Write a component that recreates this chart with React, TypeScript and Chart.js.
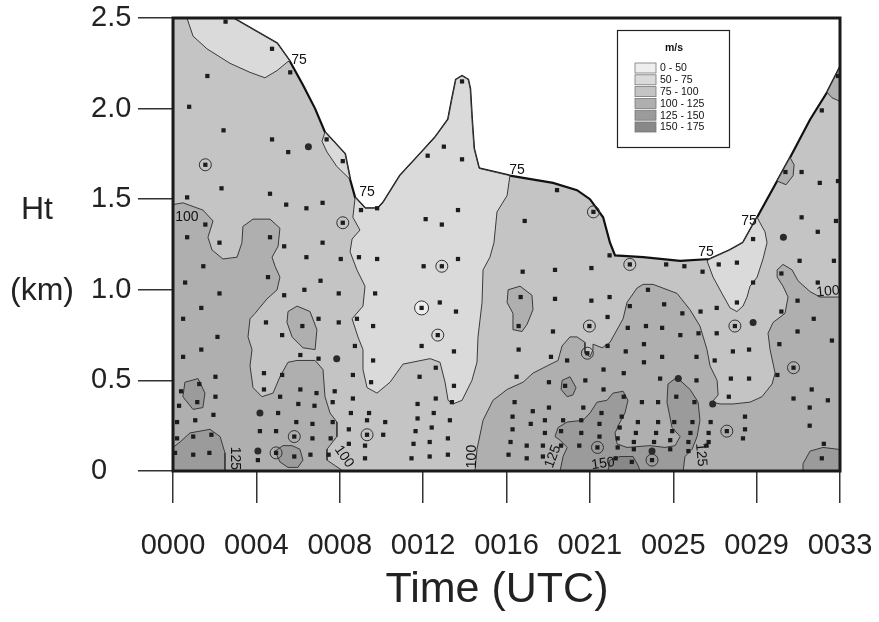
import React, { useEffect, useRef } from "react";
import { Chart, registerables } from "chart.js";

Chart.register(...registerables);

// ---------- axes ----------
const xTickPos = [0, 4.125, 8.25, 12.375, 16.5, 20.625, 24.75, 28.875, 33];
const xTickLabels = ["0000", "0004", "0008", "0012", "0016", "0021", "0025", "0029", "0033"];
const yTickValues = [0, 0.5, 1.0, 1.5, 2.0, 2.5];
const yTickLabels = ["0", "0.5", "1.0", "1.5", "2.0", "2.5"];

// ---------- legend ----------
const levelLabels = ["0 - 50", "50 - 75", "75 - 100", "100 - 125", "125 - 150", "150 - 175"];
const levelColors = ["#eeeeee", "#dadada", "#c4c4c4", "#afafaf", "#9b9b9b", "#888888"];

// ---------- contour regions: [time (min), height (km)] ----------
const domainEdge = [[0,0],[33,0],[33,2.23],[32.36,2.09],[31.52,1.94],[30.53,1.73],[29.89,1.60],[28.90,1.40],[28.20,1.26],[27.56,1.22],[26.57,1.17],[25.09,1.16],[23.26,1.18],[21.87,1.19],[21.62,1.26],[21.28,1.40],[20.63,1.50],[19.99,1.55],[18.80,1.59],[16.67,1.63],[15.14,1.67],[14.89,1.78],[14.79,1.94],[14.70,2.11],[14.60,2.16],[14.30,2.18],[14.00,2.16],[13.80,2.05],[13.61,1.94],[12.96,1.84],[12.22,1.75],[11.23,1.63],[10.39,1.48],[10.14,1.45],[9.50,1.45],[9.01,1.51],[8.76,1.61],[8.51,1.75],[7.52,1.87],[7.03,2.00],[6.43,2.13],[5.79,2.26],[5.15,2.36],[2.97,2.5],[0,2.5],[0,0]];
const topLeftLight = [[0.69,2.5],[0.99,2.40],[1.68,2.33],[2.82,2.25],[3.81,2.20],[4.55,2.17],[5.15,2.21],[5.69,2.26],[5.79,2.26],[5.15,2.36],[2.97,2.5],[0.69,2.5]];
const ridgeLight = [[7.52,1.87],[8.51,1.75],[8.76,1.61],[8.11,1.68],[7.62,1.76],[7.37,1.82],[7.52,1.87]];
const centralLight = [[9.01,1.51],[9.50,1.45],[10.14,1.45],[10.39,1.48],[11.23,1.63],[12.22,1.75],[12.96,1.84],[13.61,1.94],[13.80,2.05],[14.00,2.16],[14.30,2.18],[14.60,2.16],[14.70,2.11],[14.79,1.94],[14.89,1.78],[15.14,1.67],[16.67,1.63],[16.53,1.52],[16.03,1.43],[15.88,1.26],[15.68,1.18],[15.34,1.11],[15.29,0.93],[15.09,0.74],[15.04,0.60],[14.79,0.50],[14.30,0.39],[13.85,0.37],[13.61,0.39],[13.46,0.49],[13.21,0.60],[12.72,0.62],[11.38,0.59],[10.74,0.49],[10.09,0.43],[9.60,0.46],[9.40,0.56],[9.40,0.67],[9.15,0.74],[8.86,0.84],[9.40,0.91],[9.50,1.02],[9.10,1.11],[8.76,1.21],[8.86,1.28],[9.25,1.33],[8.90,1.40],[9.01,1.51]];
const rightLight = [[26.42,1.16],[26.72,1.07],[27.16,0.98],[27.56,0.90],[27.90,0.88],[28.20,0.91],[28.40,0.96],[28.55,1.02],[28.90,1.07],[29.19,1.17],[29.39,1.26],[29.29,1.32],[29.04,1.37],[28.90,1.40],[28.20,1.26],[27.56,1.22],[26.57,1.17],[26.42,1.16]];
const leftHigh = [[0,1.47],[0.49,1.48],[1.48,1.44],[1.98,1.38],[1.73,1.29],[1.93,1.22],[2.47,1.17],[3.17,1.18],[3.41,1.26],[3.46,1.35],[3.96,1.39],[4.80,1.39],[5.29,1.34],[5.20,1.24],[4.90,1.18],[5.05,1.13],[5.29,1.07],[5.15,1.00],[4.65,0.95],[4.06,0.87],[3.81,0.84],[3.71,0.74],[3.91,0.67],[3.81,0.58],[3.96,0.46],[4.40,0.41],[4.95,0.43],[5.29,0.52],[5.69,0.60],[6.14,0.61],[7.03,0.61],[7.42,0.56],[7.52,0.41],[7.77,0.32],[8.11,0.27],[8.11,0.19],[7.62,0.12],[7.62,0.06],[8.41,0],[0,0],[0,1.47]];
const midHighIsland = [[5.69,0.88],[6.14,0.91],[6.78,0.88],[7.12,0.78],[7.03,0.67],[6.43,0.68],[5.89,0.74],[5.64,0.82],[5.69,0.88]];
const rightHigh = [[14.94,0],[15.04,0.12],[15.34,0.28],[15.83,0.39],[16.53,0.45],[17.32,0.49],[17.81,0.54],[18.51,0.58],[19.05,0.61],[19.25,0.69],[19.64,0.74],[19.99,0.74],[20.38,0.71],[20.38,0.65],[20.63,0.63],[20.78,0.67],[20.78,0.70],[21.23,0.68],[21.62,0.71],[21.87,0.76],[22.27,0.84],[22.46,0.93],[22.96,1.01],[23.26,1.03],[23.75,1.03],[24.94,0.98],[25.58,0.89],[26.07,0.80],[26.42,0.67],[26.57,0.58],[26.92,0.50],[26.97,0.42],[26.67,0.38],[27.07,0.37],[27.71,0.37],[28.55,0.38],[29.14,0.41],[29.64,0.48],[29.79,0.54],[29.54,0.67],[29.44,0.76],[29.69,0.82],[30.28,0.87],[30.43,0.96],[30.18,1.02],[29.89,1.07],[29.89,1.11],[30.18,1.14],[30.63,1.11],[30.92,1.05],[31.52,0.99],[32.01,0.96],[33,0.96],[33,0],[14.94,0]];
const bulbHighIsland = [[16.58,1.00],[17.17,1.02],[17.76,0.97],[17.81,0.89],[17.52,0.81],[17.27,0.77],[16.82,0.78],[16.82,0.87],[16.53,0.93],[16.58,1.00]];
const cornerHigh = [[32.36,2.09],[32.60,2.06],[33,2.04],[33,2.23],[32.36,2.09]];
const edgeHighBump = [[29.89,1.60],[30.53,1.73],[30.73,1.69],[30.68,1.63],[30.33,1.58],[29.89,1.60]];
const leftBottom125 = [[0,0.13],[0.35,0.16],[0.84,0.21],[1.83,0.23],[2.33,0.19],[2.57,0.10],[2.57,0],[0,0],[0,0.13]];
const leftIsland125 = [[0.59,0.49],[1.24,0.51],[1.58,0.43],[1.48,0.35],[0.99,0.34],[0.49,0.41],[0.59,0.49]];
const bottomIsland125 = [[5.05,0.11],[5.44,0.14],[5.89,0.14],[6.28,0.12],[6.43,0.06],[6.18,0.02],[5.69,0.02],[5.29,0.05],[5.05,0.11]];
const midU125 = [[19.15,0],[19.30,0.08],[19.50,0.13],[19.15,0.17],[18.90,0.19],[19.05,0.24],[19.50,0.27],[20.29,0.28],[20.63,0.32],[20.98,0.38],[21.47,0.39],[21.77,0.43],[22.27,0.44],[22.51,0.39],[22.36,0.32],[22.12,0.27],[21.87,0.21],[21.97,0.15],[22.46,0.13],[23.60,0.14],[24.34,0.13],[24.84,0.14],[25.09,0.19],[24.69,0.24],[24.44,0.38],[24.49,0.48],[24.84,0.51],[25.09,0.50],[25.58,0.45],[25.98,0.38],[26.07,0.28],[25.93,0.19],[25.68,0.12],[25.33,0.08],[25.24,0],[19.15,0]];
const smallIsland125 = [[19.25,0.50],[19.64,0.52],[19.94,0.46],[19.79,0.42],[19.50,0.41],[19.20,0.45],[19.25,0.50]];
const rightBottom125 = [[31.17,0],[31.17,0.04],[31.52,0.11],[32.16,0.13],[32.90,0.12],[33,0.11],[33,0],[31.17,0]];
const bottom150 = [[21.52,0],[21.62,0.06],[22.12,0.08],[22.76,0.08],[23.01,0.03],[23.11,0],[21.52,0]];

// ---------- observations ----------
const obsPoints = [
[2.6,2.48],[4.9,2.33],[5.8,2.20],[1.7,2.18],[0.8,2.01],[2.5,1.88],[4.9,1.83],[5.7,1.76],[7.6,1.83],[8.4,1.71],[1.6,1.69],[2.4,1.56],[0.7,1.51],[4.8,1.53],[5.6,1.47],[6.6,1.45],[7.4,1.48],[9.3,1.44],[10.1,1.45],[1.6,1.36],[0.7,1.29],[2.3,1.26],[4.8,1.29],[5.5,1.24],[7.4,1.26],[8.4,1.37],
[14.3,2.15],[13.4,1.79],[12.6,1.74],[14.3,1.72],[19.0,1.55],[14.1,1.44],[12.5,1.39],[13.3,1.36],[17.4,1.38],[20.8,1.43],
[32.9,2.18],[32.1,1.99],[30.3,1.65],[31.1,1.65],[32.0,1.59],[32.9,1.60],[31.1,1.40],[32.8,1.38],[28.7,1.28],[31.9,1.32],
[1.5,1.13],[0.6,1.04],[2.3,0.98],[4.7,1.07],[6.6,1.18],[8.3,1.17],[9.2,1.18],[10.1,1.17],[7.3,1.05],[6.5,1.00],[5.5,0.97],[8.2,0.98],[10.0,0.98],[1.4,0.90],[0.5,0.84],[4.6,0.82],[6.4,0.80],[7.2,0.84],[8.2,0.82],[9.1,0.84],[9.9,0.80],[2.2,0.74],[5.4,0.75],[9.0,0.69],[1.4,0.67],[0.5,0.63],[6.3,0.64],[7.2,0.62],[8.1,0.62],[9.9,0.61],[4.5,0.54],[5.4,0.53],[8.9,0.53],[9.8,0.49],[2.1,0.52],[1.3,0.48],[0.4,0.44],[4.5,0.45],[6.3,0.45],[7.1,0.43],[8.0,0.44],[2.1,0.41],[1.2,0.38],[0.3,0.36],[5.3,0.41],[6.2,0.37],[7.0,0.36],[7.9,0.38],[8.9,0.40],[4.3,0.32],[5.2,0.32],[2.0,0.31],[1.1,0.28],[0.2,0.27],[6.1,0.27],[6.9,0.26],[7.9,0.27],[8.8,0.32],[9.7,0.32],[9.6,0.28],[10.5,0.27],[4.3,0.22],[5.1,0.22],[6.9,0.18],[7.8,0.18],[8.7,0.23],[10.4,0.20],[1.0,0.19],[1.9,0.20],[0.2,0.18],[1.0,0.09],[1.8,0.10],[0.1,0.10],[4.2,0.06],[4.2,0.11],[6.0,0.08],[6.8,0.09],[7.7,0.09],[8.7,0.15],[9.5,0.14],[9.5,0.07],[6.0,0.19],[9.6,0.20],[5.1,0.10],
[12.4,1.13],[14.1,1.17],[13.2,0.93],[14.0,0.88],[12.3,0.69],[13.9,0.66],[17.3,1.10],[18.9,1.11],[20.7,1.12],[21.6,1.19],[17.2,0.96],[18.9,0.95],[20.7,0.94],[21.6,0.96],[21.5,0.85],[17.1,0.80],[18.8,0.77],[21.5,0.69],[17.1,0.67],[18.7,0.63],[19.5,0.61],[21.3,0.56],[13.0,0.57],[12.2,0.52],[17.0,0.52],[18.6,0.49],[19.4,0.47],[20.4,0.50],[21.3,0.45],[13.9,0.47],[13.0,0.40],[12.1,0.37],[13.8,0.38],[16.9,0.38],[17.8,0.33],[18.6,0.35],[20.3,0.35],[21.2,0.32],[12.9,0.32],[12.1,0.29],[13.7,0.28],[16.8,0.30],[17.7,0.26],[18.4,0.28],[19.3,0.28],[20.2,0.28],[21.1,0.26],[12.0,0.22],[12.8,0.24],[13.6,0.18],[16.8,0.23],[18.4,0.21],[19.2,0.22],[20.2,0.21],[21.1,0.19],[11.9,0.15],[12.7,0.16],[16.7,0.16],[17.5,0.14],[18.3,0.14],[19.2,0.14],[20.1,0.14],[22.0,0.13],[11.8,0.07],[12.7,0.08],[13.6,0.09],[16.6,0.09],[17.5,0.07],[18.3,0.08],[21.9,0.07],[13.3,1.13],[12.3,0.90],[13.1,0.75],[20.6,0.80],[20.5,0.65],[21.0,0.13],
[24.4,1.14],[25.3,1.13],[26.2,1.10],[27.0,1.14],[27.9,1.15],[28.7,1.04],[31.0,1.16],[32.7,1.16],[30.1,1.09],[31.9,1.04],[23.5,1.00],[24.3,0.92],[25.2,0.87],[26.1,0.88],[26.9,0.90],[27.9,0.93],[30.9,0.94],[22.6,0.91],[30.1,0.88],[31.7,0.84],[23.4,0.80],[24.2,0.79],[25.1,0.75],[26.0,0.76],[26.9,0.76],[30.9,0.77],[32.6,0.72],[22.5,0.79],[23.3,0.70],[24.2,0.63],[25.9,0.63],[26.8,0.61],[27.7,0.66],[28.5,0.67],[30.0,0.70],[22.4,0.66],[23.3,0.60],[22.3,0.54],[24.1,0.51],[25.0,0.51],[25.9,0.50],[27.6,0.51],[28.5,0.51],[29.9,0.53],[31.6,0.45],[22.3,0.41],[23.2,0.38],[24.0,0.38],[24.9,0.41],[25.8,0.38],[27.5,0.41],[30.7,0.40],[31.5,0.35],[32.4,0.39],[22.2,0.30],[23.0,0.27],[24.0,0.27],[24.8,0.27],[25.7,0.27],[26.6,0.27],[28.3,0.30],[22.1,0.24],[22.9,0.21],[23.9,0.21],[24.7,0.22],[25.6,0.21],[26.5,0.21],[28.3,0.23],[31.5,0.25],[22.0,0.18],[22.8,0.16],[23.8,0.16],[24.6,0.17],[25.5,0.16],[26.5,0.16],[28.2,0.18],[32.2,0.15],[22.8,0.12],[24.6,0.12],[25.5,0.11],[26.4,0.14],[22.7,0.05],[32.1,0.07],[22.6,1.14],[27.8,0.80],[30.7,0.57],[27.4,0.22],[23.7,0.06],[26.7,0.37]
];
const ringPoints = [[1.6,1.69],[8.4,1.37],[20.8,1.43],[6.0,0.19],[9.6,0.20],[5.1,0.10],[13.3,1.13],[13.1,0.75],[20.6,0.80],[20.5,0.65],[21.0,0.13],[22.6,1.14],[27.8,0.80],[30.7,0.57],[27.4,0.22],[23.7,0.06]];
const lowRingPoints = [[12.3,0.90]];
const darkPoints = [[6.7,1.79],[30.2,1.29],[8.1,0.62],[4.3,0.32],[4.2,0.11],[28.7,0.82],[25.0,0.51],[23.7,0.11],[26.7,0.37]];

// ---------- contour labels: text, time, height, angle ----------
const contourLabels: [string, number, number, number][] = [
  ["75", 6.24, 2.27, 0], ["75", 9.60, 1.54, 0], ["75", 17.02, 1.66, 0], ["75", 26.37, 1.21, 0], ["75", 28.50, 1.38, 0],
  ["100", 0.69, 1.40, 0], ["100", 32.41, 0.99, -5], ["100", 8.46, 0.08, 55], ["100", 14.80, 0.08, -90],
  ["125", 3.07, 0.07, 90], ["125", 18.80, 0.08, -70], ["150", 21.28, 0.04, -8], ["125", 26.12, 0.09, 85],
];

const regions: { pts: number[][]; level: number }[] = [
  { pts: domainEdge, level: 2 },
  { pts: topLeftLight, level: 1 },
  { pts: ridgeLight, level: 1 },
  { pts: centralLight, level: 1 },
  { pts: rightLight, level: 1 },
  { pts: leftHigh, level: 3 },
  { pts: midHighIsland, level: 3 },
  { pts: rightHigh, level: 3 },
  { pts: bulbHighIsland, level: 3 },
  { pts: cornerHigh, level: 3 },
  { pts: edgeHighBump, level: 3 },
  { pts: leftBottom125, level: 4 },
  { pts: leftIsland125, level: 4 },
  { pts: bottomIsland125, level: 4 },
  { pts: midU125, level: 4 },
  { pts: smallIsland125, level: 4 },
  { pts: rightBottom125, level: 4 },
  { pts: bottom150, level: 5 },
];

const FONT = '"Liberation Sans", Arial, Helvetica, sans-serif';
const toXY = (pts: number[][]) => pts.map(([x, y]) => ({ x, y }));

const decorPlugin = {
  id: "decor",
  afterDatasetsDraw(chart: any) {
    const { ctx, scales } = chart;
    const xs = scales.x, ys = scales.y;
    ctx.save();
    ctx.font = `14px ${FONT}`;
    ctx.fillStyle = "#111";
    ctx.textAlign = "center";
    ctx.textBaseline = "middle";
    for (const [t, vx, vy, a] of contourLabels) {
      ctx.save();
      ctx.translate(xs.getPixelForValue(vx), ys.getPixelForValue(vy));
      ctx.rotate((a * Math.PI) / 180);
      ctx.fillText(t, 0, 0);
      ctx.restore();
    }
    ctx.restore();
  },
  afterDraw(chart: any) {
    const { ctx, chartArea, scales } = chart;
    const ys = scales.y;
    const { left, top, right, bottom } = chartArea;
    ctx.save();
    // frame
    ctx.strokeStyle = "#1a1a1a";
    ctx.lineWidth = 3;
    ctx.strokeRect(left, top, right - left, bottom - top);
    // legend
    const x0 = right - 223, y0 = top + 12, w = 112, h = 117;
    ctx.fillStyle = "#ffffff";
    ctx.fillRect(x0, y0, w, h);
    ctx.lineWidth = 1.2;
    ctx.strokeStyle = "#222";
    ctx.strokeRect(x0 + 0.5, y0 + 0.5, w, h);
    ctx.fillStyle = "#111";
    ctx.font = `bold 10.5px ${FONT}`;
    ctx.textAlign = "center";
    ctx.textBaseline = "middle";
    ctx.fillText("m/s", x0 + 57, y0 + 18);
    ctx.font = `10.5px ${FONT}`;
    ctx.textAlign = "left";
    levelLabels.forEach((lab, i) => {
      const cy = y0 + 38 + i * 11.8;
      ctx.fillStyle = levelColors[i];
      ctx.fillRect(x0 + 18, cy - 5, 21, 10);
      ctx.strokeStyle = "#777";
      ctx.lineWidth = 0.8;
      ctx.strokeRect(x0 + 18, cy - 5, 21, 10);
      ctx.fillStyle = "#111";
      ctx.fillText(lab, x0 + 43, cy + 0.5);
    });
    // axis titles
    ctx.fillStyle = "#222";
    ctx.font = `32px ${FONT}`;
    ctx.textAlign = "left";
    ctx.textBaseline = "middle";
    ctx.fillText("Ht", 21, ys.getPixelForValue(1.5) + 11);
    ctx.fillText("(km)", 10, ys.getPixelForValue(1.0) + 1);
    ctx.font = `43px ${FONT}`;
    ctx.textAlign = "center";
    ctx.fillText("Time (UTC)", 497, 590);
    ctx.restore();
  },
};

export default function App() {
  const ref = useRef<HTMLCanvasElement | null>(null);
  useEffect(() => {
    if (!ref.current) return;
    const datasets: any[] = regions.map((r, i) => ({
      type: "line",
      data: toXY(r.pts),
      fill: "shape",
      backgroundColor: levelColors[r.level],
      borderColor: i === 0 ? "#111" : "#3a3a3a",
      borderWidth: i === 0 ? 2.2 : 1,
      pointRadius: 0,
      tension: 0,
      order: 100 - i,
    }));
    datasets.push({
      type: "scatter", data: toXY(ringPoints), pointStyle: "circle", pointRadius: 6,
      backgroundColor: "rgba(0,0,0,0)", borderColor: "#333", borderWidth: 1, order: 5,
    });
    datasets.push({
      type: "scatter", data: toXY(lowRingPoints), pointStyle: "circle", pointRadius: 7,
      backgroundColor: levelColors[0], borderColor: "#333", borderWidth: 1, order: 4,
    });
    datasets.push({
      type: "scatter", data: toXY(obsPoints), pointStyle: "rect", pointRadius: 3,
      backgroundColor: "#1c1c1c", borderWidth: 0, order: 3,
    });
    datasets.push({
      type: "scatter", data: toXY(darkPoints), pointStyle: "circle", pointRadius: 3.5,
      backgroundColor: "#2a2a2a", borderWidth: 0, order: 2,
    });

    const chart = new Chart(ref.current, {
      type: "line",
      data: { datasets },
      plugins: [decorPlugin],
      options: {
        animation: false,
        responsive: false,
        events: [],
        layout: { padding: { top: 18, right: 39, left: 91, bottom: 0 } },
        plugins: { legend: { display: false }, tooltip: { enabled: false }, title: { display: false } },
        scales: {
          x: {
            type: "linear",
            min: 0,
            max: 33,
            afterBuildTicks: (s: any) => { s.ticks = xTickPos.map((v) => ({ value: v })); },
            afterFit: (s: any) => { s.height = 151; s.paddingLeft = 0; s.paddingRight = 0; },
            grid: { drawOnChartArea: false, drawTicks: true, tickLength: 32, color: "#333", lineWidth: 1.5 },
            border: { display: false },
            ticks: {
              autoSkip: false, maxRotation: 0, padding: 26, color: "#222",
              font: { family: FONT, size: 29 },
              callback: (_v: any, i: number) => xTickLabels[i],
            },
          },
          y: {
            type: "linear",
            min: 0,
            max: 2.5,
            afterBuildTicks: (s: any) => { s.ticks = yTickValues.map((v) => ({ value: v })); },
            afterFit: (s: any) => { s.width = 82; s.paddingTop = 0; s.paddingBottom = 0; },
            grid: { drawOnChartArea: false, drawTicks: true, tickLength: 35, color: "#333", lineWidth: 1.5 },
            border: { display: false },
            ticks: {
              padding: 6, color: "#222", crossAlign: "far",
              font: { family: FONT, size: 29 },
              callback: (_v: any, i: number) => yTickLabels[i],
            },
          },
        },
      } as any,
    });
    return () => chart.destroy();
  }, []);
  return (
    <div style={{ position: "fixed", left: 0, top: 0, width: 879, height: 622, background: "#fff" }}>
      <canvas ref={ref} width={879} height={622} style={{ display: "block" }} />
    </div>
  );
}
